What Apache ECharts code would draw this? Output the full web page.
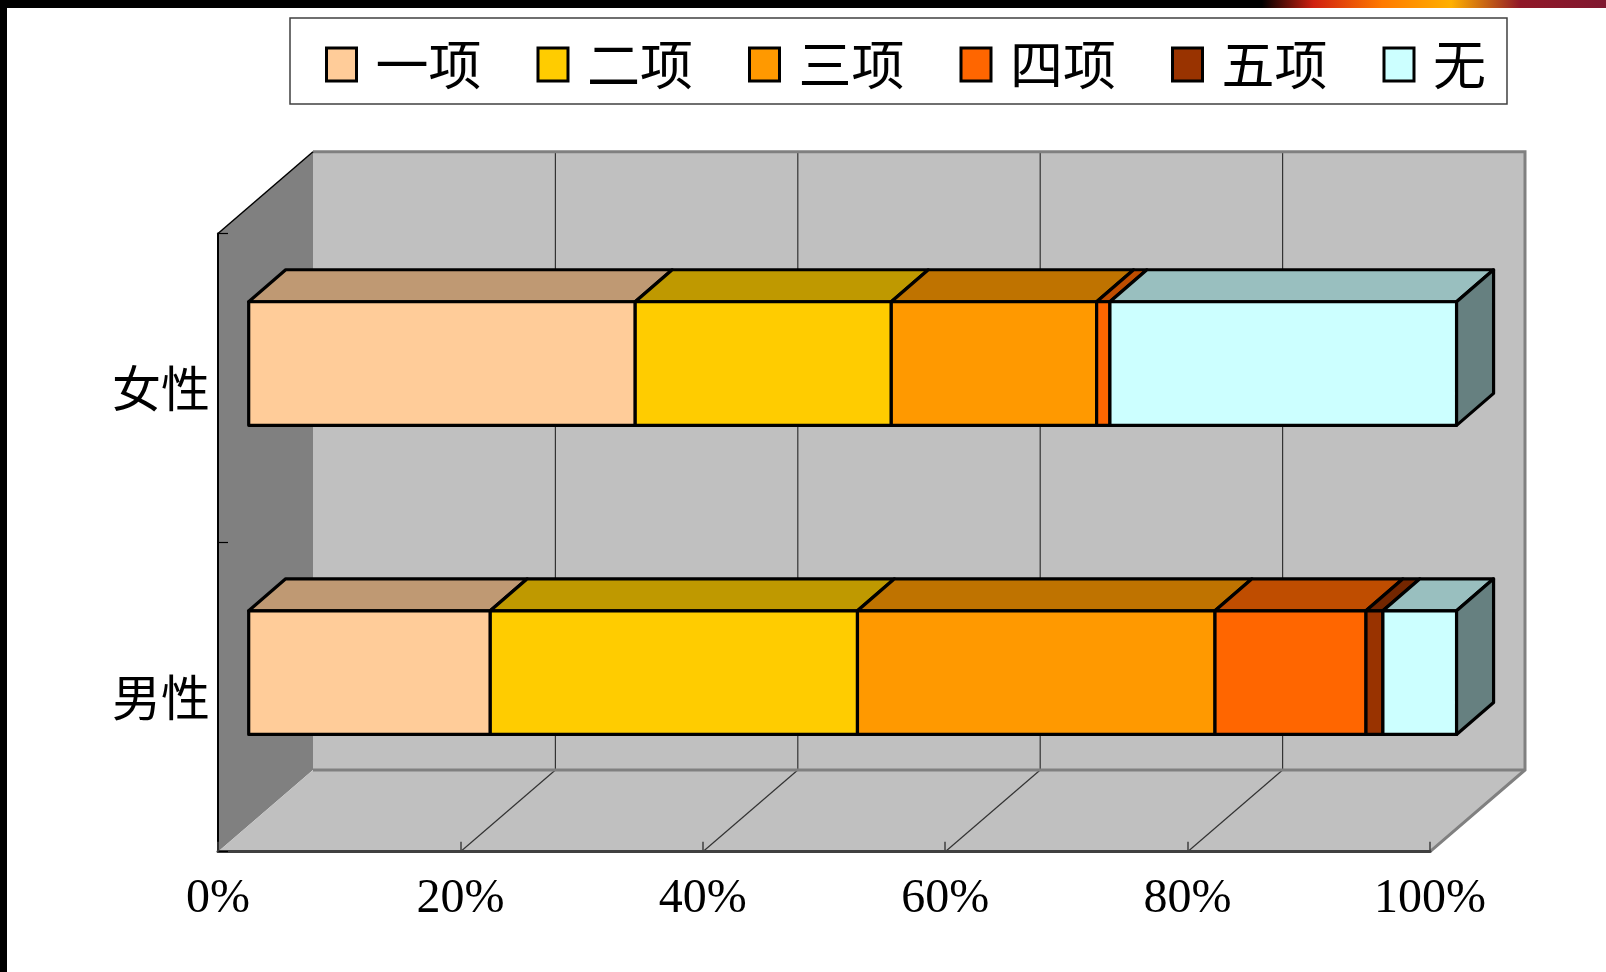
<!DOCTYPE html>
<html>
<head>
<meta charset="utf-8">
<script src="https://cdn.jsdelivr.net/npm/echarts@6/dist/echarts.min.js"></script>
<style>
html, body { margin: 0; padding: 0; background: #fff; }
#chart { width: 1606px; height: 972px; }
</style>
</head>
<body>
<div id="chart"></div>
<script>
const categories = ['男性', '女性'];
const seriesNames = ['一项', '二项', '三项', '四项', '五项', '无'];
// share in percent, order: [男性, 女性]
const yiXiang = [20.0, 32.0];
const erXiang = [30.4, 21.2];
const sanXiang = [29.6, 17.0];
const siXiang = [12.5, 1.1];
const wuXiang = [1.4, 0];
const wu = [6.1, 28.7];
const xTicks = [0, 20, 40, 60, 80, 100];
const colors = ['#FFCC99', '#FFCC00', '#FF9900', '#FF6600', '#993300', '#CCFFFF'];

const CJK = '"Noto Sans CJK SC", sans-serif';
const DEPTH_X = 95, DEPTH_Y = -81.7;     // wall depth offset
const BAR_OFF_X = 30.7, BAR_OFF_Y = -24.5; // front face of bars inside the depth
const BAR_DX = 37, BAR_DY = -32;          // bar depth
const BAR_RATIO = 0.4, BAR_SCALE = 0.9966;

function shade(hex, k) {
    const n = parseInt(hex.slice(1), 16);
    const r = Math.round(((n >> 16) & 255) * k);
    const g = Math.round(((n >> 8) & 255) * k);
    const b = Math.round((n & 255) * k);
    return `rgb(${r},${g},${b})`;
}

function renderFrame(params, api) {
    const cs = params.coordSys;
    const fx = cs.x, fy = cs.y, fw = cs.width, fh = cs.height;
    const bx = fx + DEPTH_X, by = fy + DEPTH_Y;
    const children = [
        {type: 'polygon', shape: {points: [[fx, fy], [bx, by], [bx, by + fh], [fx, fy + fh]]}, style: {fill: '#808080'}},
        {type: 'rect', shape: {x: bx, y: by, width: fw, height: fh}, style: {fill: '#C0C0C0'}},
        {type: 'polygon', shape: {points: [[fx, fy + fh], [bx, by + fh], [bx + fw, by + fh], [fx + fw, fy + fh]]}, style: {fill: '#C0C0C0'}}
    ];
    xTicks.forEach(t => {
        if (t === 0 || t === 100) return;
        const x = api.coord([t, 0])[0];
        children.push({type: 'line', shape: {x1: x + DEPTH_X, y1: by, x2: x + DEPTH_X, y2: by + fh}, style: {stroke: '#333', lineWidth: 1.2}});
        children.push({type: 'line', shape: {x1: x, y1: fy + fh, x2: x + DEPTH_X, y2: by + fh}, style: {stroke: '#333', lineWidth: 1.2}});
    });
    const gray = {stroke: '#808080', lineWidth: 3};
    children.push(
        {type: 'polyline', shape: {points: [[bx, by], [bx + fw, by], [bx + fw, by + fh], [fx + fw, fy + fh]]}, style: Object.assign({fill: null}, gray)},
        {type: 'line', shape: {x1: bx, y1: by + fh, x2: bx + fw, y2: by + fh}, style: gray},
        {type: 'line', shape: {x1: fx, y1: fy, x2: bx, y2: by}, style: {stroke: '#000', lineWidth: 1.5}}
    );
    return {type: 'group', children: children};
}

function renderBar(color) {
    return function (params, api) {
        const start = api.value(0), end = api.value(1), cat = api.value(2);
        if (end - start <= 0) return;
        const zero = api.coord([0, cat])[0];
        const x0 = zero + (api.coord([start, cat])[0] - zero) * BAR_SCALE + BAR_OFF_X;
        const x1 = zero + (api.coord([end, cat])[0] - zero) * BAR_SCALE + BAR_OFF_X;
        const cy = api.coord([start, cat])[1];
        const h = api.size([0, 1])[1] * BAR_RATIO;
        const yt = cy - h / 2 + BAR_OFF_Y, yb = cy + h / 2 + BAR_OFF_Y;
        const dx = BAR_DX, dy = BAR_DY;
        const line = {stroke: '#000', lineWidth: 3.2, lineJoin: 'round'};
        const children = [
            {type: 'polygon', shape: {points: [[x0, yt], [x1, yt], [x1 + dx, yt + dy], [x0 + dx, yt + dy]]},
             style: Object.assign({fill: shade(color, 0.75)}, line)},
            {type: 'rect', shape: {x: x0, y: yt, width: x1 - x0, height: yb - yt},
             style: Object.assign({fill: color}, line)}
        ];
        if (end >= 99.95) {
            children.push({type: 'polygon', shape: {points: [[x1, yt], [x1, yb], [x1 + dx, yb + dy], [x1 + dx, yt + dy]]},
                style: Object.assign({fill: shade(color, 0.5)}, line)});
        }
        return {type: 'group', children: children};
    };
}

const values = [yiXiang, erXiang, sanXiang, siXiang, wuXiang, wu];
const base = categories.map(() => 0);
const barSeries = values.map((vals, i) => {
    const data = vals.map((v, c) => {
        const s = base[c];
        base[c] += v;
        return [s, base[c], c];
    });
    return {
        type: 'custom',
        name: seriesNames[i],
        z: 2,
        itemStyle: {color: colors[i]},
        encode: {x: [0, 1], y: 2},
        renderItem: renderBar(colors[i]),
        data: data
    };
});

const chart = echarts.init(document.getElementById('chart'));
chart.setOption({
    animation: false,
    backgroundColor: '#fff',
    graphic: [
        {type: 'rect', left: 0, top: 0, z: 10, shape: {width: 1606, height: 8}, style: {fill: '#000'}},
        {type: 'rect', left: 0, top: 0, z: 10, shape: {width: 7, height: 972}, style: {fill: '#000'}},
        {type: 'rect', left: 1262, top: 0, z: 11, shape: {width: 344, height: 8},
         style: {fill: new echarts.graphic.LinearGradient(0, 0, 1, 0, [
             {offset: 0, color: '#000'}, {offset: 0.15, color: '#D02010'}, {offset: 0.35, color: '#FF7A00'},
             {offset: 0.55, color: '#FFB000'}, {offset: 0.75, color: '#901828'}, {offset: 1, color: '#801830'}])}}
    ],
    legend: {
        data: seriesNames,
        left: 290,
        top: 18,
        padding: [20, 21, 13, 35],
        itemGap: 55,
        itemWidth: 30,
        itemHeight: 33,
        icon: 'rect',
        selectedMode: false,
        borderColor: '#404040',
        borderWidth: 1.5,
        itemStyle: {borderColor: '#000', borderWidth: 3},
        textStyle: {fontFamily: CJK, fontSize: 53, color: '#000', lineHeight: 53, padding: [0, 0, 0, 14]}
    },
    grid: {left: 218, right: 176, top: 233.5, bottom: 120.3},
    xAxis: {
        type: 'value', min: 0, max: 100, interval: 20, z: 5,
        splitLine: {show: false},
        axisLine: {show: true, lineStyle: {color: '#404040', width: 3}},
        axisTick: {show: true, inside: true, length: 10, lineStyle: {color: '#404040', width: 1.5}},
        axisLabel: {formatter: '{value}%', fontFamily: '"Liberation Serif", serif', fontSize: 48, color: '#000', margin: 24}
    },
    yAxis: {
        type: 'category', data: categories, z: 5,
        axisLine: {show: true, lineStyle: {color: '#000', width: 2}},
        axisTick: {show: true, inside: true, length: 10, lineStyle: {color: '#000', width: 1.2}},
        axisLabel: {fontFamily: CJK, fontSize: 49, color: '#000', margin: 8}
    },
    series: [{
        type: 'custom',
        silent: true,
        z: 1,
        encode: {x: 0, y: 1},
        renderItem: renderFrame,
        data: [[0, 0]]
    }].concat(barSeries)
});

window.addEventListener('resize', () => {
    chart.resize();
});
</script>
</body>
</html>
